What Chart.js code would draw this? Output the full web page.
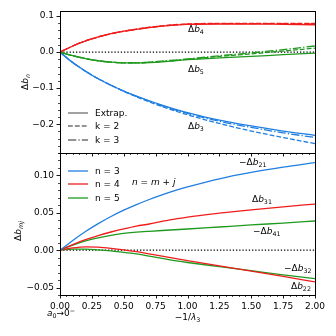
<!DOCTYPE html>
<html>
<head>
<meta charset="utf-8">
<script src="https://cdn.jsdelivr.net/npm/chart.js@4.4.1/dist/chart.umd.min.js"></script>
<style>
  html, body { margin: 0; padding: 0; background: #fff; }
  #wrap { position: relative; width: 336px; height: 336px; }
  canvas { position: absolute; left: 0; top: 0; }
</style>
</head>
<body>
<div id="wrap">
  <canvas id="top" width="336" height="336"></canvas>
  <canvas id="bottom" width="336" height="336"></canvas>
</div>
<script>
// x values (-1/lambda_3)
const xs = [0, 0.1, 0.2, 0.3, 0.4, 0.5, 0.6, 0.7, 0.8, 0.9, 1.0, 1.25, 1.5, 1.75, 2.0]

// upper panel: delta b_n  (Extrap., k = 2, k = 3)
const b3Extrap = [0, -0.029, -0.053, -0.074, -0.092, -0.108, -0.122, -0.135, -0.147, -0.158, -0.168, -0.189, -0.205, -0.219, -0.231]
const b3K2     = [0, -0.029, -0.053, -0.074, -0.092, -0.109, -0.124, -0.138, -0.151, -0.163, -0.174, -0.198, -0.219, -0.237, -0.254]
const b3K3     = [0, -0.029, -0.053, -0.074, -0.092, -0.108, -0.123, -0.136, -0.149, -0.160, -0.170, -0.192, -0.209, -0.224, -0.237]
const b4Extrap = [0, 0.017, 0.031, 0.042, 0.051, 0.058, 0.063, 0.068, 0.072, 0.075, 0.077, 0.078, 0.078, 0.077, 0.076]
const b4K2     = [0, 0.017, 0.031, 0.042, 0.051, 0.058, 0.064, 0.069, 0.073, 0.076, 0.078, 0.080, 0.080, 0.080, 0.080]
const b4K3     = [0, 0.017, 0.031, 0.042, 0.051, 0.058, 0.0635, 0.0685, 0.0725, 0.0755, 0.0775, 0.079, 0.079, 0.079, 0.078]
const b5Extrap = [0, -0.010, -0.018, -0.024, -0.028, -0.030, -0.030, -0.029, -0.027, -0.024, -0.021, -0.016, -0.012, -0.007, -0.003]
const b5K2     = [0, -0.010, -0.018, -0.024, -0.028, -0.030, -0.030, -0.028, -0.026, -0.023, -0.020, -0.012, -0.005, 0.003, 0.011]
const b5K3     = [0, -0.010, -0.018, -0.024, -0.028, -0.030, -0.030, -0.028, -0.025, -0.022, -0.019, -0.010, -0.002, 0.007, 0.017]

// lower panel: delta b_mj
const n3b21 = [0, 0.013, 0.025, 0.0355, 0.045, 0.0535, 0.061, 0.0678, 0.074, 0.0796, 0.0846, 0.0955, 0.1040, 0.1110, 0.117]
const n4b31 = [0, 0.0075, 0.014, 0.0195, 0.0243, 0.0285, 0.0322, 0.035, 0.0385, 0.0415, 0.0443, 0.0495, 0.054, 0.058, 0.0617]
const n5b41 = [0, 0.0068, 0.0125, 0.0165, 0.0198, 0.0225, 0.024, 0.0252, 0.0263, 0.0273, 0.0283, 0.031, 0.0337, 0.0363, 0.039]
const n4b22 = [0, 0.003, 0.0045, 0.004, 0.0025, 0.0005, -0.002, -0.005, -0.008, -0.011, -0.014, -0.021, -0.028, -0.035, -0.0425]
const n5b32 = [0, 0.0015, 0.0015, 0.0005, -0.001, -0.003, -0.005, -0.008, -0.011, -0.014, -0.0165, -0.022, -0.0275, -0.033, -0.038]

const zeroX = [0, 2]
const zeroY = [0, 0]

const BLUE = '#1f7ee0'
const RED = '#f01c1c'
const GREEN = '#1f9a1f'
const GRAY = '#707070'
const FONT = 'DejaVu Sans'

const DASHED = [4.8, 2.1]
const DASHDOT = [8.3, 2.1, 1.3, 2.1]

function line(ys, color, dash, xv){
    const xv2 = xv || xs
    return {
        data: xv2.map((x, i) => ({x: x, y: ys[i]})),
        borderColor: color,
        borderWidth: 1.3,
        borderDash: dash || [],
        pointRadius: 0,
        fill: false,
        cubicInterpolationMode: 'monotone'
    }
}

function zeroLine(){
    const d = line(zeroY, '#000', [1.3, 1.9], zeroX)
    d.borderWidth = 1.2
    d.cubicInterpolationMode = 'default'
    return d
}

// draws mathtext-like strings: [text, kind] with kind r / i / sub / subi / sup
function mathText(ctx, parts, x, y, size, align){
    const pieces = parts.map(([t, k]) => {
        const small = k === 'sub' || k === 'subi' || k === 'sup'
        const italic = k === 'i' || k === 'subi'
        const fs = small ? size * 0.7 : size
        const font = (italic ? 'oblique ' : '') + fs + 'px "' + FONT + '"'
        ctx.font = font
        let dy = 0
        if(k === 'sub' || k === 'subi') dy = size * 0.22
        if(k === 'sup') dy = -size * 0.38
        return {t: t, font: font, w: ctx.measureText(t).width, dy: dy}
    })
    const total = pieces.reduce((s, p) => s + p.w, 0)
    let cx = x
    if(align === 'center') cx = x - total / 2
    if(align === 'right') cx = x - total
    ctx.textAlign = 'left'
    ctx.textBaseline = 'alphabetic'
    pieces.forEach(p => {
        ctx.font = p.font
        ctx.fillText(p.t, cx, y + p.dy)
        cx += p.w
    })
}

const mplPlugin = {
    id: 'mpl',
    afterDatasetsDraw(chart, args, o){
        const {ctx, chartArea: a, scales} = chart
        const sx = scales.x, sy = scales.y
        ctx.save()
        ctx.strokeStyle = '#000'
        ctx.fillStyle = '#000'

        const marks = (scale, minor, major) => {
            const out = []
            const i0 = Math.ceil(scale.min / minor - 1e-6)
            const i1 = Math.floor(scale.max / minor + 1e-6)
            for(let i = i0; i <= i1; i++){
                const v = i * minor
                const r = v / major
                out.push({p: Math.round(scale.getPixelForValue(v)) + 0.5, major: Math.abs(r - Math.round(r)) < 1e-6})
            }
            return out
        }

        marks(sx, o.xMinor, o.xMajor).forEach(m => {
            ctx.lineWidth = m.major ? 0.9 : 0.7
            ctx.beginPath()
            ctx.moveTo(m.p, a.bottom)
            ctx.lineTo(m.p, a.bottom + (m.major ? 3.5 : 2))
            ctx.stroke()
        })
        marks(sy, o.yMinor, o.yMajor).forEach(m => {
            ctx.lineWidth = m.major ? 0.9 : 0.7
            ctx.beginPath()
            ctx.moveTo(a.left, m.p)
            ctx.lineTo(a.left - (m.major ? 3.5 : 2), m.p)
            ctx.stroke()
        })

        // frame
        ctx.lineWidth = 1
        ctx.strokeRect(Math.round(a.left) + 0.5, Math.round(a.top) + 0.5, Math.round(a.right - a.left), Math.round(a.bottom - a.top))

        // legend
        o.legend.forEach((e, i) => {
            const yy = o.legendY[i]
            ctx.strokeStyle = e.color
            ctx.lineWidth = 1.3
            ctx.setLineDash(e.dash)
            ctx.beginPath()
            ctx.moveTo(68, yy)
            ctx.lineTo(88, yy)
            ctx.stroke()
            ctx.setLineDash([])
            ctx.fillStyle = '#000'
            ctx.font = '9px "' + FONT + '"'
            ctx.textAlign = 'left'
            ctx.textBaseline = 'middle'
            ctx.fillText(e.text, 95, yy + 0.5)
        })

        // annotations
        ctx.fillStyle = '#000'
        o.texts.forEach(t => {
            if(t.rotate){
                ctx.save()
                ctx.translate(t.x, t.y)
                ctx.rotate(-Math.PI / 2)
                mathText(ctx, t.parts, 0, 0, 9, 'center')
                ctx.restore()
            } else {
                mathText(ctx, t.parts, t.x, t.y, 9, t.align || 'left')
            }
        })
        ctx.restore()
    }
}

function fmt(digits){
    return v => {
        const s = Math.abs(v) < 1e-9 ? (0).toFixed(digits) : Math.abs(v).toFixed(digits)
        return v < -1e-9 ? '\u2212' + s : s
    }
}

const tickFont = {family: FONT, size: 9}
const noGrid = {display: false, drawTicks: false, tickLength: 0}

new Chart(document.getElementById('top'), {
    type: 'line',
    data: {
        datasets: [
            line(b4K3, RED, DASHDOT), line(b4K2, RED, DASHED), line(b4Extrap, RED),
            line(b5K3, GREEN, DASHDOT), line(b5K2, GREEN, DASHED), line(b5Extrap, GREEN),
            line(b3K3, BLUE, DASHDOT), line(b3K2, BLUE, DASHED), line(b3Extrap, BLUE),
            zeroLine()
        ]
    },
    options: {
        responsive: false,
        animation: false,
        layout: {padding: {left: 0, right: 21, top: 10, bottom: 183}},
        plugins: {
            legend: {display: false},
            tooltip: {enabled: false},
            mpl: {
                xMinor: 0.05, xMajor: 0.25, yMinor: 0.02, yMajor: 0.1,
                legend: [
                    {text: 'Extrap.', color: GRAY, dash: []},
                    {text: 'k = 2', color: GRAY, dash: DASHED},
                    {text: 'k = 3', color: GRAY, dash: DASHDOT}
                ],
                legendY: [113, 126, 140],
                texts: [
                    {parts: [['\u0394', 'r'], ['b', 'i'], ['4', 'sub']], x: 188, y: 32},
                    {parts: [['\u0394', 'r'], ['b', 'i'], ['5', 'sub']], x: 188, y: 72},
                    {parts: [['\u0394', 'r'], ['b', 'i'], ['3', 'sub']], x: 188, y: 129},
                    {parts: [['\u0394', 'r'], ['b', 'i'], ['n', 'subi']], x: 28, y: 82, rotate: true}
                ]
            }
        },
        scales: {
            x: {type: 'linear', min: 0, max: 2, display: false},
            y: {
                min: -0.28, max: 0.113,
                afterFit: s => { s.width = 60 },
                grid: noGrid,
                border: {display: false},
                ticks: {stepSize: 0.1, includeBounds: false, padding: 6, font: tickFont, color: '#000', callback: fmt(1)}
            }
        }
    },
    plugins: [mplPlugin]
})

new Chart(document.getElementById('bottom'), {
    type: 'line',
    data: {
        datasets: [
            line(n3b21, BLUE), line(n4b31, RED), line(n5b41, GREEN),
            line(n4b22, RED), line(n5b32, GREEN),
            zeroLine()
        ]
    },
    options: {
        responsive: false,
        animation: false,
        layout: {padding: {left: 0, right: 21, top: 153, bottom: 0}},
        plugins: {
            legend: {display: false},
            tooltip: {enabled: false},
            mpl: {
                xMinor: 0.05, xMajor: 0.25, yMinor: 0.01, yMajor: 0.05,
                legend: [
                    {text: 'n = 3', color: BLUE, dash: []},
                    {text: 'n = 4', color: RED, dash: []},
                    {text: 'n = 5', color: GREEN, dash: []}
                ],
                legendY: [171, 184, 198],
                texts: [
                    {parts: [['n', 'i'], [' = ', 'r'], ['m', 'i'], [' + ', 'r'], ['j', 'i']], x: 132, y: 185},
                    {parts: [['\u2212\u0394', 'r'], ['b', 'i'], ['21', 'sub']], x: 239, y: 165},
                    {parts: [['\u0394', 'r'], ['b', 'i'], ['31', 'sub']], x: 252, y: 202},
                    {parts: [['\u2212\u0394', 'r'], ['b', 'i'], ['41', 'sub']], x: 253, y: 234},
                    {parts: [['\u2212\u0394', 'r'], ['b', 'i'], ['32', 'sub']], x: 284, y: 271},
                    {parts: [['\u0394', 'r'], ['b', 'i'], ['22', 'sub']], x: 291, y: 289},
                    {parts: [['a', 'i'], ['0', 'sub'], ['\u21920', 'r'], ['\u2212', 'sup']], x: 47, y: 316},
                    {parts: [['\u22121/', 'r'], ['\u03bb', 'i'], ['3', 'sub']], x: 187.5, y: 320, align: 'center'},
                    {parts: [['\u0394', 'r'], ['b', 'i'], ['mj', 'subi']], x: 21, y: 231, rotate: true}
                ]
            }
        },
        scales: {
            x: {
                type: 'linear', min: 0, max: 2,
                afterFit: s => { s.height = 41 },
                grid: noGrid,
                border: {display: false},
                ticks: {stepSize: 0.25, includeBounds: false, autoSkip: false, maxRotation: 0, padding: 6, font: tickFont, color: '#000', callback: fmt(2)}
            },
            y: {
                min: -0.06, max: 0.13,
                afterFit: s => { s.width = 60 },
                grid: noGrid,
                border: {display: false},
                ticks: {stepSize: 0.05, includeBounds: false, padding: 6, font: tickFont, color: '#000', callback: fmt(2)}
            }
        }
    },
    plugins: [mplPlugin]
})
</script>
</body>
</html>
